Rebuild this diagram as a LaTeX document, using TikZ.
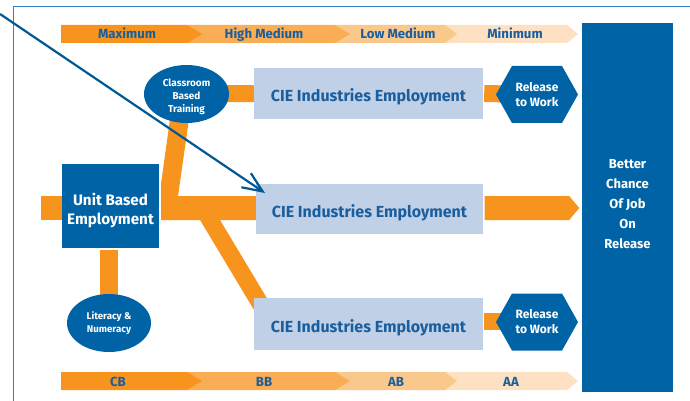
\documentclass[tikz,border=0pt]{standalone}
\usepackage{fontspec}
\setmainfont{Fira Sans}
\usetikzlibrary{shapes.geometric,arrows.meta,calc}
\definecolor{org}{HTML}{F7941D}
\definecolor{orgb}{HTML}{F9AD55}
\definecolor{orgc}{HTML}{FBC88B}
\definecolor{orgd}{HTML}{FDE1C2}
\definecolor{dblue}{HTML}{0063A6}
\definecolor{lblue}{HTML}{C0D0E6}
\definecolor{tblue}{HTML}{1A5E9E}
\definecolor{framec}{HTML}{3A7EBF}
\pgfdeclarelayer{bg}\pgfsetlayers{bg,main}
\begin{document}
\begin{tikzpicture}[x=1pt,y=-1pt,
  cie/.style={fill=lblue, text=tblue, font=\fontsize{16}{19}\selectfont\bfseries, minimum width=229pt, minimum height=51pt, inner sep=0pt, text height=17pt, text depth=0pt},
  bandtxt/.style={text=tblue, font=\fontsize{13.2}{15}\selectfont\bfseries, inner sep=0pt, anchor=base},
  bluebox/.style={fill=dblue, inner sep=0pt},
  blueell/.style={ellipse, fill=dblue, inner sep=0pt},
  whitetxt/.style={text=white, align=center, inner sep=0pt},
  obar/.style={draw=org, line cap=butt}
]
\useasboundingbox (0,0) rectangle (690,401);
% frame
\draw[framec, line width=1pt] (690,7) -- (13,7) -- (13,401);

% top band chevrons
\fill[orgd] (445,25) -- (567,25) -- (578,34) -- (567,43) -- (445,43) -- cycle;
\fill[orgc] (335,25) -- (445,25) -- (457,34) -- (445,43) -- (335,43) -- cycle;
\fill[orgb] (187,25) -- (335,25) -- (350,34) -- (335,43) -- (187,43) -- cycle;
\fill[org] (61,25) -- (187,25) -- (202,34) -- (187,43) -- (61,43) -- cycle;
\node[bandtxt] (t1) at (127,38.5) {Maximum};
\node[bandtxt] (t2) at (264,38.5) {High Medium};
\node[bandtxt] (t3) at (398,38.5) {Low Medium};
\node[bandtxt] (t4) at (515,38.5) {Minimum};

% bottom band chevrons
\fill[orgd] (445,372) -- (567,372) -- (578,381) -- (567,390) -- (445,390) -- cycle;
\fill[orgc] (335,372) -- (445,372) -- (457,381) -- (445,390) -- (335,390) -- cycle;
\fill[orgb] (187,372) -- (335,372) -- (350,381) -- (335,390) -- (187,390) -- cycle;
\fill[org] (61,372) -- (187,372) -- (202,381) -- (187,390) -- (61,390) -- cycle;
\node[bandtxt] (b1) at (118,386) {CB};
\node[bandtxt] (b2) at (264,386) {BB};
\node[bandtxt] (b3) at (396,386) {AB};
\node[bandtxt] (b4) at (511,386) {AA};

% big box
\node[bluebox, minimum width=91pt, minimum height=369pt] (better) at (627.5,207.5) {};
\node[whitetxt, font=\fontsize{13}{20}\selectfont\bfseries] (bettertxt) at ($(better.center)+(0,-3)$) {Better\\Chance\\Of Job\\On\\Release};

% CIE boxes
\node[cie] (cie1) at (368.5,93.5) {CIE Industries Employment};
\node[cie, minimum width=227pt, minimum height=50pt] (cie2) at (369.5,209) {CIE Industries Employment};
\node[cie, minimum height=52pt] (cie3) at (368.5,324) {CIE Industries Employment};

% unit box
\node[bluebox, minimum width=97pt, minimum height=84pt] (unit) at (110.5,206) {};
\node[whitetxt, font=\fontsize{15.2}{19}\selectfont\bfseries] (unittxt) at ($(unit.center)+(0,4.5)$) {Unit Based\\Employment};

% ellipses
\node[blueell, minimum width=85pt, minimum height=58pt] (class) at (186.5,94) {};
\node[whitetxt, font=\fontsize{10}{13}\selectfont\bfseries] (classtxt) at ($(class.center)+(0,2.5)$) {Classroom\\Based\\Training};
\node[blueell, minimum width=84pt, minimum height=58pt] (lit) at (109,323) {};
\node[whitetxt, font=\fontsize{9.7}{13}\selectfont\bfseries] (littxt) at ($(lit.center)+(0,0)$) {Literacy \&\\Numeracy};

% hexagons
\coordinate (hx1c) at (537,94.5);
\coordinate (hx2c) at (537,322);
\fill[dblue] ($(hx1c)+(-41,0)$) -- ++(16,-28.5) -- ++(50,0) -- ++(16,28.5) -- ++(-16,28.5) -- ++(-50,0) -- cycle;
\fill[dblue] ($(hx2c)+(-41,0)$) -- ++(16,-28.5) -- ++(50,0) -- ++(16,28.5) -- ++(-16,28.5) -- ++(-50,0) -- cycle;
\node[whitetxt, font=\fontsize{12}{15}\selectfont\bfseries] (hx1) at (hx1c) {Release\\to Work};
\node[whitetxt, font=\fontsize{12}{15}\selectfont\bfseries] (hx2) at (hx2c) {Release\\to Work};

% orange connectors (behind)
\begin{pgfonlayer}{bg}
  \coordinate (lstub) at (41,208);
  \draw[obar, line width=24pt] (lstub) -- (unit.west |- lstub);
  \draw[obar, line width=18pt] ($(unit.south)+(-1.5,2)$) -- (lit.center);
  \draw[obar, line width=17pt] (class.center) -- (cie1.west);
  \draw[obar, line width=17pt] ([xshift=1pt]cie1.east) -- (hx1c);
  \draw[obar, line width=17pt] ([xshift=1pt]cie3.east |- 0,321.5) -- (hx2c |- 0,321.5);
  % branching trunk
  \fill[org] (171,112) -- (190,112) -- (178,196) -- (cie2.west |- 0,196) -- (cie2.west |- 0,220) -- (220,220) -- (274,310) -- (254,310) -- (200,220) -- (161,220) -- (161,184) -- cycle;
\end{pgfonlayer}

% middle arrow to big box
\fill[org] ($(cie2.east)+(1.5,-13)$) -- ($(cie2.east)+(86,-13)$) -- ($(cie2.east)+(96,-1)$) -- ($(cie2.east)+(86,11)$) -- ($(cie2.east)+(1.5,11)$) -- cycle;

% diagonal arrow
\coordinate (astart) at (0,14);
\coordinate (atip) at (265,193);
\draw[color=dblue!90!black, line width=2.2pt, -{Straight Barb[length=20pt,width=17pt]}] (astart) -- (atip);
\end{tikzpicture}
\end{document}
